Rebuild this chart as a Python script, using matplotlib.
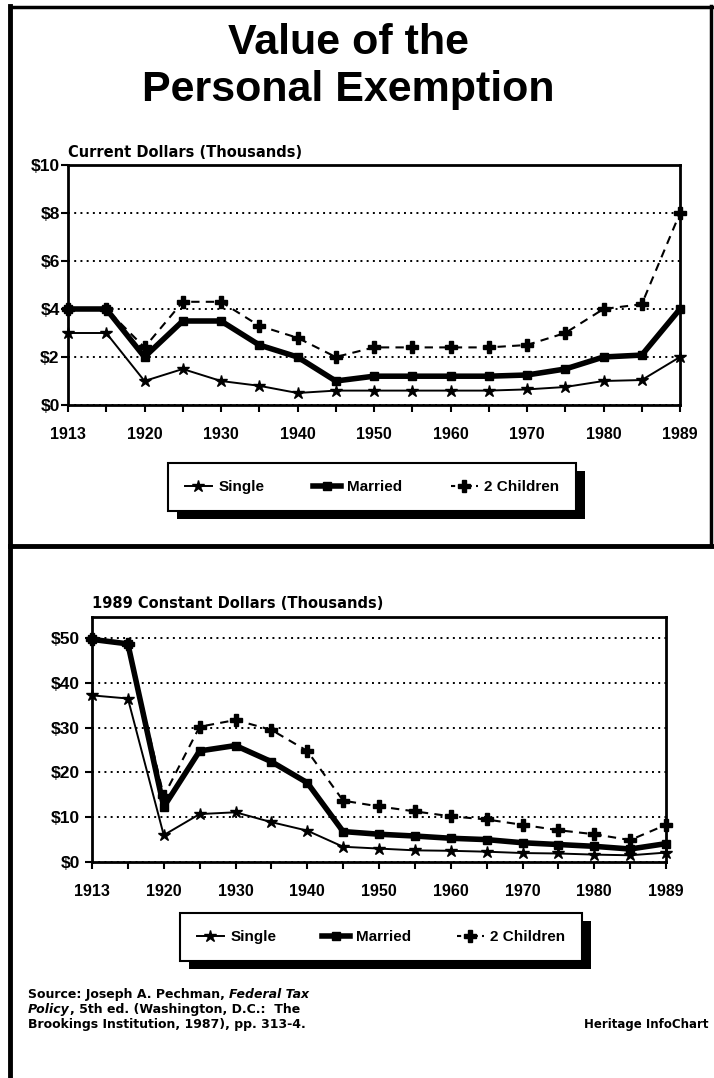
import matplotlib
matplotlib.use("Agg")
import matplotlib.pyplot as plt
from matplotlib.patches import Rectangle
from matplotlib.lines import Line2D

plt.rcParams['font.family'] = ['Liberation Sans', 'DejaVu Sans']
plt.rcParams['font.weight'] = 'bold'

# years on the x axis (evenly spaced categories in the original)
years = [1913, 1915, 1920, 1925, 1930, 1935, 1940, 1945, 1950,
         1955, 1960, 1965, 1970, 1975, 1980, 1985, 1989]
year_labels = ["1913", "", "1920", "", "1930", "", "1940", "", "1950",
               "", "1960", "", "1970", "", "1980", "", "1989"]

# current dollars (thousands)
cur_single = [3.0, 3.0, 1.0, 1.5, 1.0, 0.8, 0.5, 0.6, 0.6,
              0.6, 0.6, 0.6, 0.65, 0.75, 1.0, 1.04, 2.0]
cur_married = [4.0, 4.0, 2.0, 3.5, 3.5, 2.5, 2.0, 1.0, 1.2,
               1.2, 1.2, 1.2, 1.25, 1.5, 2.0, 2.08, 4.0]
cur_children = [4.0, 4.0, 2.4, 4.3, 4.3, 3.3, 2.8, 2.0, 2.4,
                2.4, 2.4, 2.4, 2.5, 3.0, 4.0, 4.2, 8.0]

# 1989 constant dollars (thousands)
const_single = [37.2, 36.5, 6.0, 10.7, 11.1, 8.9, 7.0, 3.4, 3.0,
                2.6, 2.5, 2.3, 2.0, 1.9, 1.65, 1.5, 2.1]
const_married = [49.7, 48.7, 12.3, 24.8, 26.0, 22.4, 17.7, 6.8, 6.2,
                 5.8, 5.3, 5.0, 4.3, 3.9, 3.5, 2.9, 4.1]
const_children = [49.7, 48.7, 14.7, 30.2, 31.7, 29.5, 24.8, 13.7, 12.4,
                  11.3, 10.2, 9.5, 8.3, 7.1, 6.2, 4.9, 8.3]

W, H = 714, 1078
fig = plt.figure(figsize=(W / 100, H / 100), dpi=100)


def fx(px):
    return px / W


def fy(py):
    return 1 - py / H


def panel(left, top, right, bottom, single, married, children, ymax, yticks, ypad):
    ax = fig.add_axes([fx(left), fy(bottom), fx(right - left), (bottom - top) / H])
    x = list(range(len(years)))
    ax.plot(x, children, color='black', lw=1.5, dashes=(4, 3), marker='P',
            ms=8, mec='black', mfc='black', clip_on=False, zorder=3)
    ax.plot(x, married, color='black', lw=4, marker='s', ms=6,
            mec='black', mfc='black', clip_on=False, zorder=4)
    ax.plot(x, single, color='black', lw=1.4, marker='*', ms=9,
            mec='black', mfc='black', clip_on=False, zorder=5)
    ax.set_xlim(0, len(years) - 1)
    ax.set_ylim(0, ymax)
    ax.set_xticks(x)
    ax.set_xticklabels(year_labels)
    ax.set_yticks(yticks)
    ax.set_yticklabels(["$%d" % v for v in yticks])
    ax.tick_params(axis='x', direction='out', length=5, width=1.5, pad=11,
                   labelsize=11.5)
    ax.tick_params(axis='y', direction='out', length=5, width=1.5, pad=ypad,
                   labelsize=12.5)
    ax.grid(axis='y', color='black', lw=1.4, linestyle=(0, (1, 2.2)))
    ax.set_axisbelow(True)
    for s in ax.spines.values():
        s.set_linewidth(2)
    return ax


ax1 = panel(68, 165, 680, 405, cur_single, cur_married, cur_children,
            10, [0, 2, 4, 6, 8, 10], 1)
ax2 = panel(92, 617, 666, 862, const_single, const_married, const_children,
            54.7, [0, 10, 20, 30, 40, 50], 3.5)

# titles
fig.text(fx(348), fy(54), "Value of the", ha='center', va='baseline',
         fontsize=31)
fig.text(fx(348), fy(101), "Personal Exemption", ha='center', va='baseline',
         fontsize=31)
sub = dict(fontsize=10.5, va='baseline', family='DejaVu Sans', fontweight='bold')
fig.text(fx(68), fy(157), "Current Dollars (Thousands)", **sub)
fig.text(fx(92), fy(608), "1989 Constant Dollars (Thousands)", **sub)

# frame lines
for xs, ys, lw in [((10, 10), (6, H), 3.5), ((10, 712), (7, 7), 2.5),
                   ((711, 711), (6, 546), 2.5), ((10, W), (546, 546), 3.5)]:
    fig.add_artist(Line2D([fx(xs[0]), fx(xs[1])], [fy(ys[0]), fy(ys[1])],
                          transform=fig.transFigure, color='black', lw=lw))

# legends
handles = [
    Line2D([], [], color='black', lw=1.4, marker='*', ms=9),
    Line2D([], [], color='black', lw=4, marker='s', ms=6),
    Line2D([], [], color='black', lw=1.5, dashes=(2, 2), marker='P', ms=8),
]
names = ["Single", "Married", "2 Children"]
legs = []
for cx, cy, cs in [(372, 487, 3.2), (381, 937, 3.0)]:
    leg = fig.legend(handles, names, loc='center', ncol=3,
                     bbox_to_anchor=(fx(cx), fy(cy)), fontsize=11,
                     frameon=True, fancybox=False, framealpha=1,
                     edgecolor='black', handlelength=1.8, handletextpad=0.4,
                     columnspacing=cs, borderpad=1.1)
    leg.get_frame().set_linewidth(1.5)
    legs.append(leg)

# source note
src = dict(fontsize=9, fontweight='bold', family='DejaVu Sans')
t = fig.text(fx(28), fy(998), "Source: Joseph A. Pechman, ", va='baseline', **src)
ax1.annotate("Federal Tax", xy=(1, 0), xycoords=t, va='bottom', ha='left',
             style='italic', annotation_clip=False, **src)
t = fig.text(fx(28), fy(1013), "Policy", style='italic', va='baseline', **src)
ax1.annotate(", 5th ed. (Washington, D.C.:  The", xy=(1, 0), xycoords=t,
             va='bottom', ha='left', annotation_clip=False, **src)
fig.text(fx(28), fy(1028), "Brookings Institution, 1987), pp. 313-4.",
         va='baseline', **src)
fig.text(fx(708), fy(1028), "Heritage InfoChart", ha='right', va='baseline',
         fontsize=8.5, fontweight='bold', family='DejaVu Sans')

# drop shadows behind the legend boxes
fig.canvas.draw()
inv = fig.transFigure.inverted()
for leg in legs:
    bb = leg.get_frame().get_window_extent().transformed(inv)
    fig.add_artist(Rectangle((bb.x0 + fx(9), bb.y0 - 8 / H), bb.width, bb.height,
                             transform=fig.transFigure, facecolor='black',
                             edgecolor='none', zorder=1))

fig.savefig("out.png", dpi=100)
